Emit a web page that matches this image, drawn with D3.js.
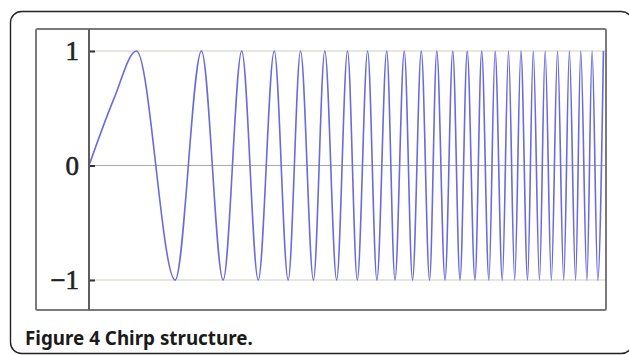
<!DOCTYPE html>
<html>
<head>
<meta charset="utf-8">
<script src="https://cdn.jsdelivr.net/npm/d3@7"></script>
<style>
  html, body { margin: 0; padding: 0; background: #fff; }
  svg { display: block; }
</style>
</head>
<body>
<svg id="chart" width="629" height="355"></svg>
<script>
// Chirp signal: the opening rise, then the times of the crests and troughs
// (frequency rising with time)
const riseTimes = [0, 0.48];
const riseValues = [0, 0.58];
const crestTimes = [0.92, 2.18, 2.96, 3.59, 4.10, 4.57, 5.01, 5.40, 5.77, 6.11,
                    6.44, 6.74, 7.05, 7.33, 7.61, 7.87, 8.13, 8.37, 8.61, 8.84,
                    9.08, 9.31, 9.53, 9.75, 9.97];
const troughTimes = [1.67, 2.60, 3.28, 3.86, 4.35, 4.80, 5.20, 5.58, 5.93, 6.27,
                     6.60, 6.90, 7.19, 7.48, 7.75, 8.01, 8.25, 8.50, 8.73, 8.96,
                     9.20, 9.43, 9.65, 9.86];
const crestValue = 1;
const troughValue = -1;
const yTicks = [-1, 0, 1];
const yTickLabels = ["\u22121", "0", "1"];
const timeDomain = [0, 10];
const caption = "Figure 4 Chirp structure.";

const svg = d3.select("#chart");

// Outer caption box with rounded corners
svg.append("rect")
  .attr("x", 10.5).attr("y", 11.5)
  .attr("width", 622).attr("height", 342)
  .attr("rx", 11).attr("ry", 11)
  .attr("fill", "none")
  .attr("stroke", "#222")
  .attr("stroke-width", 1.4);

// Plot frame
const frame = { left: 36, top: 29, right: 606, bottom: 310 };
const plot = { left: 89, right: 605, top: 29, bottom: 310 };

const x = d3.scaleLinear().domain(timeDomain).range([plot.left, plot.right]);
const y = d3.scaleLinear().domain([-1, 1]).range([280, 51]);

// Grid lines at the tick values
svg.append("g").selectAll("line")
  .data(yTicks)
  .join("line")
  .attr("x1", plot.left).attr("x2", plot.right)
  .attr("y1", d => y(d)).attr("y2", d => y(d))
  .attr("stroke", d => d === 0 ? "#a9a9a9" : "#cfcfc6")
  .attr("stroke-width", 1.2);

// Signal
const points = riseTimes.map((t, i) => ({ t, v: riseValues[i] }))
  .concat(crestTimes.map(t => ({ t, v: crestValue })))
  .concat(troughTimes.map(t => ({ t, v: troughValue })))
  .sort((a, b) => a.t - b.t);

svg.append("clipPath").attr("id", "plotClip")
  .append("rect")
  .attr("x", plot.left).attr("y", plot.top)
  .attr("width", plot.right - plot.left).attr("height", plot.bottom - plot.top);

const line = d3.line()
  .x(d => x(d.t))
  .y(d => y(d.v))
  .curve(d3.curveMonotoneX);

svg.append("path")
  .datum(points)
  .attr("clip-path", "url(#plotClip)")
  .attr("fill", "none")
  .attr("stroke", "#6a6adc")
  .attr("stroke-width", 1.6)
  .attr("stroke-linejoin", "round")
  .attr("d", line);

// Frame around the plot and labels
svg.append("rect")
  .attr("x", frame.left).attr("y", frame.top)
  .attr("width", frame.right - frame.left).attr("height", frame.bottom - frame.top)
  .attr("rx", 1.5)
  .attr("fill", "none")
  .attr("stroke", "#7a7a7a")
  .attr("stroke-width", 2);

// Y axis with inward ticks
const yAxis = d3.axisRight(y)
  .tickValues(yTicks)
  .tickSize(6)
  .tickFormat("");
const axisG = svg.append("g")
  .attr("transform", `translate(${plot.left},0)`)
  .call(yAxis);
axisG.select(".domain").remove();
axisG.selectAll(".tick line").attr("stroke", "#333").attr("stroke-width", 2);

svg.append("line")
  .attr("x1", plot.left).attr("x2", plot.left)
  .attr("y1", frame.top).attr("y2", frame.bottom)
  .attr("stroke", "#5e5e5e")
  .attr("stroke-width", 2);

// Tick labels
svg.append("g").selectAll("text")
  .data(yTicks)
  .join("text")
  .attr("x", 79)
  .attr("y", d => y(d))
  .attr("dy", "0.35em")
  .attr("text-anchor", "end")
  .attr("font-family", "'Liberation Serif', 'DejaVu Serif', serif")
  .attr("font-size", 27)
  .attr("fill", "#222")
  .attr("stroke", "#222")
  .attr("stroke-width", 0.6)
  .text((d, i) => yTickLabels[i]);

// Caption
const cap = svg.append("text")
  .attr("x", 25)
  .attr("y", 345)
  .attr("font-family", "'Noto Sans', 'Open Sans', sans-serif")
  .attr("font-weight", "bold")
  .attr("font-size", 15.5)
  .attr("fill", "#1a1a1a")
  .text(caption);
const w = cap.node().getComputedTextLength();
cap.attr("font-size", 15.5 * 228 / w);
</script>
</body>
</html>
